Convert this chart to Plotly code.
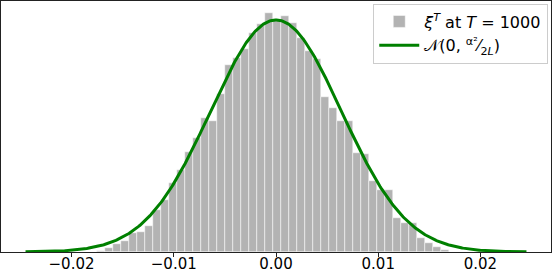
import numpy as np
import plotly.graph_objects as go

# Histogram (density) values, left to right
bin_start = -0.0175
bin_width = 0.000782
densities = [0.27, 1.07, 2.15, 2.95, 5.10, 5.37, 6.98, 11.28, 13.97, 18.53,
             22.03, 26.86, 30.62, 35.99, 35.19, 42.44, 50.23, 52.11, 54.53, 58.82,
             61.24, 64.20, 62.32, 63.39, 61.51, 57.48, 53.99, 51.84, 41.63, 38.68,
             35.19, 35.19, 26.59, 26.32, 19.07, 16.65, 16.65, 9.13, 7.79, 7.79,
             3.76, 2.42, 1.34, 0.54]

# Normal reference curve parameters
sigma = 0.0064
curve_lo, curve_hi = -0.0245, 0.0245

tick_vals = [-0.02, -0.01, 0.0, 0.01, 0.02]
tick_text = ["\u22120.02", "\u22120.01", "0.00", "0.01", "0.02"]

centers = [bin_start + (i + 0.5) * bin_width for i in range(len(densities))]
xs = np.linspace(curve_lo, curve_hi, 500)
pdf = np.exp(-xs**2 / (2 * sigma**2)) / (sigma * np.sqrt(2 * np.pi))

fig = go.Figure()
fig.add_trace(go.Bar(
    x=centers, y=densities, width=bin_width,
    marker=dict(color="#b3b3b3", line=dict(color="white", width=0.5)),
    name="<i>ξ</i><sup><i>T</i></sup> at <i>T</i> = 1000",
))
fig.add_trace(go.Scatter(
    x=xs, y=pdf, mode="lines",
    line=dict(color="#008000", width=3),
    name="𝒩(0, <sup>α²</sup>⁄<sub>2<i>L</i></sub>)",
))

ymax = max(densities) * 1.05
fig.update_layout(
    width=552, height=271,
    margin=dict(l=1, r=1, t=1, b=19, autoexpand=False),
    paper_bgcolor="white", plot_bgcolor="white",
    bargap=0,
    showlegend=True,
    font=dict(family="DejaVu Sans", size=15, color="black"),
    legend=dict(x=0.995, y=0.99, xanchor="right", yanchor="top",
                bgcolor="rgba(255,255,255,0.8)", bordercolor="#cccccc",
                borderwidth=1, font=dict(size=16), tracegroupgap=0,
                itemwidth=40),
)
fig.update_xaxes(range=[-0.0269, 0.0269], tickvals=tick_vals, ticktext=tick_text,
                 showgrid=False, zeroline=False, showline=True, linecolor="#222",
                 linewidth=1, mirror=True, ticks="outside", ticklen=4,
                 tickcolor="#222", tickfont=dict(size=15), automargin=False,
                 ticklabelstandoff=-6)
fig.update_yaxes(range=[0, ymax], showticklabels=False, showgrid=False,
                 zeroline=False, showline=True, linecolor="#222", linewidth=1,
                 mirror=True, ticks="", automargin=False)

fig.write_html("out.html")
